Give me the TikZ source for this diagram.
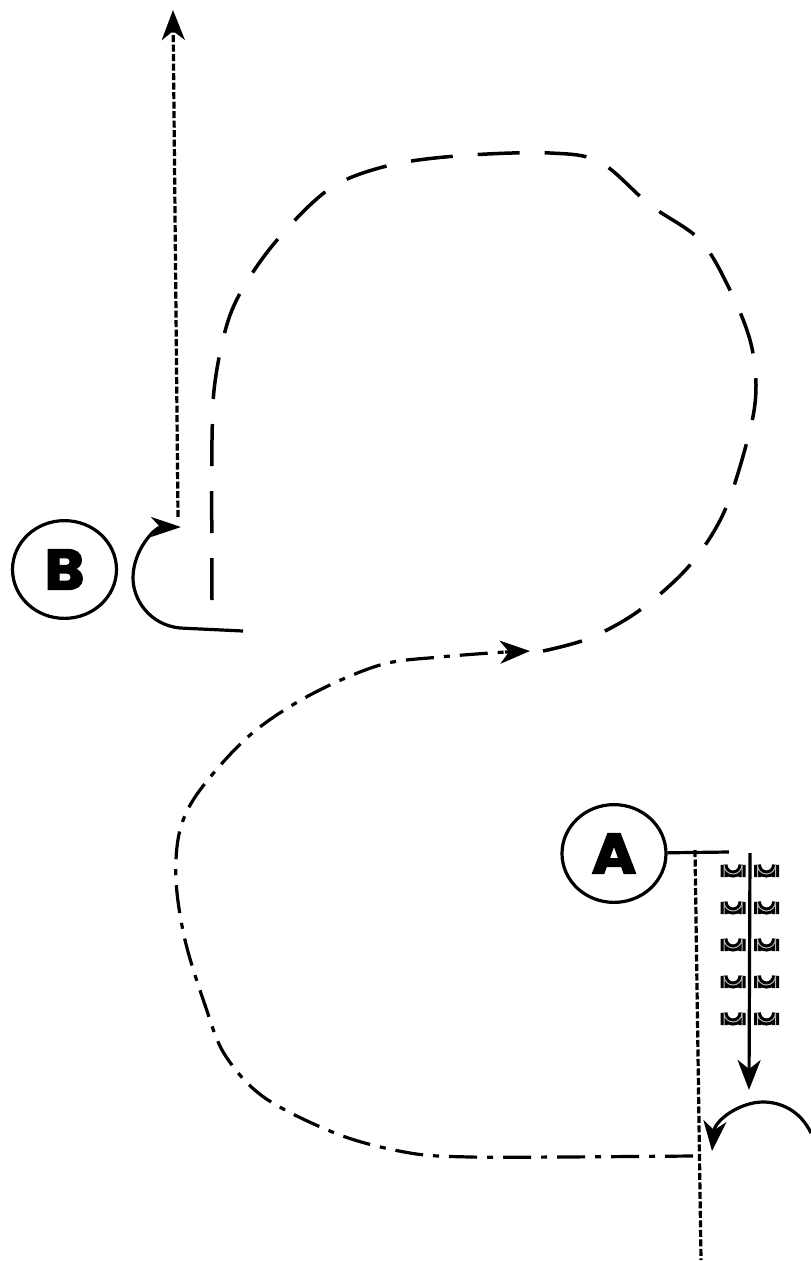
\documentclass[tikz,border=0pt]{standalone}
\usepackage{fontspec}
\newfontfamily\heavyfont[FakeBold=3]{Poppins Bold}
\usetikzlibrary{arrows.meta}
\tikzset{
  x=1pt,y=-1pt,
  ink/.style={line width=3.2pt,black},
  letter/.style={circle,draw=black,line width=3.2pt,minimum width=104pt,inner sep=0pt,yscale=0.94,font=\heavyfont\fontsize{60}{60}\selectfont},
  longdash/.style={line width=3.5pt,dash pattern=on 42pt off 25pt},
  dashdot/.style={line width=3.2pt,dash pattern=on 28pt off 10pt on 6pt off 10pt},
  fine/.style={line width=3.2pt,dash pattern=on 7pt off 2.5pt},
  head/.style={-{Stealth[length=30pt,width=23pt,inset=9pt]}},
  ushape/.pic={
    \draw[line width=7pt,black] (-9,11) -- (-9,-1) arc[start angle=180,end angle=0,radius=9] -- (9,11);
    \draw[line width=1pt,gray!55] (-9,11) -- (-9,-1) arc[start angle=180,end angle=0,radius=9] -- (9,11);
  }
}
\begin{document}
\begin{tikzpicture}
\useasboundingbox (0,0) rectangle (811,1261);
\node[letter] (B) at (64.5,569.5) {\raisebox{0pt}{B}};
\node[letter] (A) at (614,853.5) {A};
\coordinate (bt) at (243,631);
\coordinate (bj) at (180,628);
\coordinate (bh) at (181,527);
\coordinate (bs) at (178,517);
\coordinate (bu) at (173,10);
\coordinate (aj) at (729,852);
\coordinate (ad) at (695,850);
\coordinate (ae) at (701,1260);
\coordinate (as) at (750,853);
\coordinate (at) at (749,1090);
\coordinate (ar) at (811,1133);
\coordinate (ah) at (712,1151);
\coordinate (us) at (212,600);
\coordinate (ue) at (543,651);
\coordinate (ls) at (693,1156);
\coordinate (le) at (530,651);
% top dashed arrow
\draw[fine,head] (bs) -- (bu);
% B hook
\draw[ink] (bt) -- (bj);
\draw[ink,-{Stealth[length=30pt,width=20pt,inset=9pt]}] (bj) .. controls (150,625) and (133,600) .. (133,578) .. controls (133,550) and (155,527) .. (bh);
% big dashed loop
\draw[longdash] plot[smooth,tension=0.55] coordinates {(us) (212,440) (216,375) (232,310) (265,255) (310,205) (345,180) (400,163) (470,155) (550,153) (600,162) (650,205) (700,240) (730,290) (750,340) (756,385) (750,430) (725,510) (690,565) (640,610) (590,638) (ue)};
% lower dash-dot loop
\draw[dashdot] plot[smooth,tension=0.55] coordinates {(ls) (560,1157) (470,1157) (410,1153) (340,1135) (265,1098) (225,1055) (205,1005) (185,940) (176,880) (180,830) (200,790) (250,735) (310,695) (380,665) (440,657) (505,652)};
\draw[ink,head] (505,652) -- (le);
% A part
\draw[ink] (A) -- (aj);
\draw[fine] (ad) -- (ae);
\foreach \r in {866,903,940,977,1014}{
  \pic at (733,\r) {ushape};
  \pic at (766.5,\r) {ushape};
}
\draw[ink,head] (as) -- (at);
\draw[ink,head] (ar) .. controls (800,1110) and (780,1102) .. (763,1102) .. controls (740,1102) and (715,1120) .. (ah);
\end{tikzpicture}
\end{document}
